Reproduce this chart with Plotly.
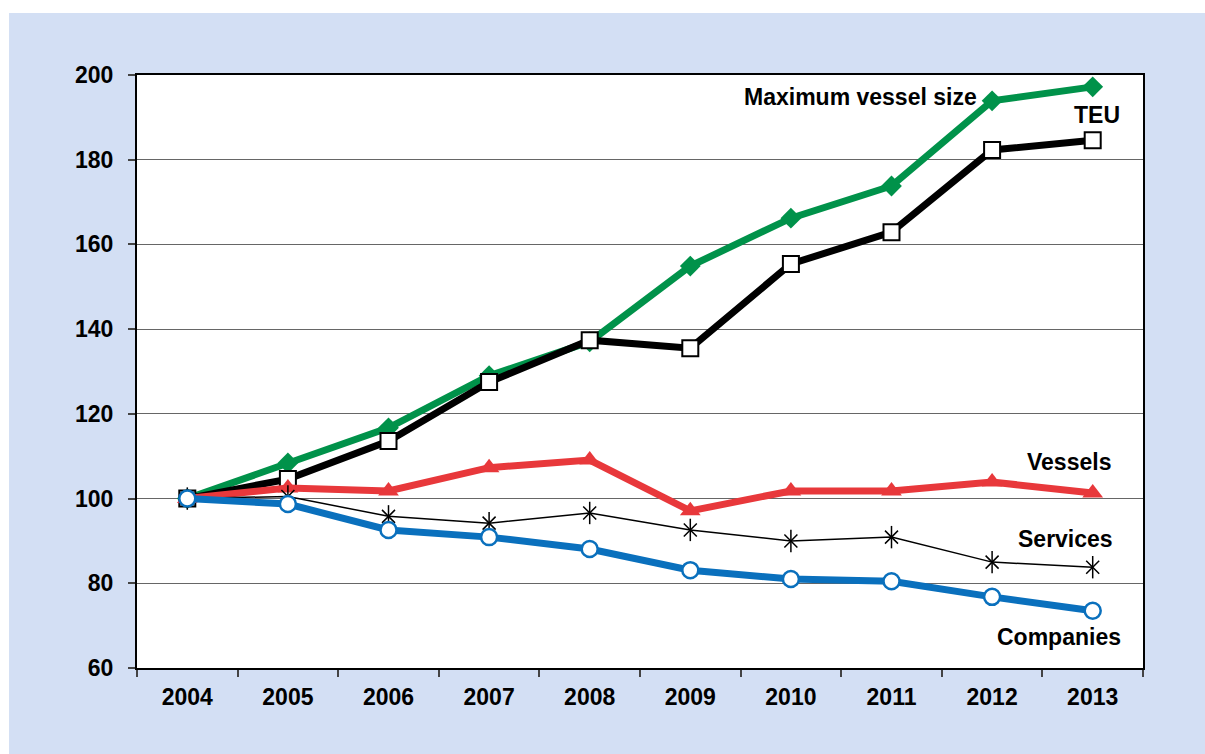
import plotly.graph_objects as go

# Index values, 2004 = 100
YEARS = ["2004", "2005", "2006", "2007", "2008", "2009", "2010", "2011", "2012", "2013"]
MAX_VESSEL_SIZE = [100, 108.4, 116.7, 129.0, 137.0, 154.9, 166.2, 173.8, 193.9, 197.2]
TEU = [100, 104.6, 113.6, 127.5, 137.4, 135.5, 155.4, 162.9, 182.3, 184.6]
VESSELS = [100, 102.5, 101.8, 107.3, 109.1, 97.1, 101.8, 101.8, 103.9, 101.3]
SERVICES = [100, 100.5, 95.8, 94.2, 96.6, 92.6, 90.0, 90.9, 85.0, 83.8]
COMPANIES = [100, 98.7, 92.6, 90.9, 88.1, 83.1, 81.0, 80.5, 76.8, 73.5]

GREEN = "#00924a"
RED = "#e8383b"
BLUE = "#0a70bd"
BG_BLUE = "#d3dff4"
FONT = "Liberation Sans, Arial, sans-serif"

fig = go.Figure()

fig.add_trace(go.Scatter(
    x=YEARS, y=MAX_VESSEL_SIZE, mode="lines+markers", name="Maximum vessel size",
    line=dict(color=GREEN, width=7),
    marker=dict(symbol="diamond", size=16, color=GREEN),
))
fig.add_trace(go.Scatter(
    x=YEARS, y=TEU, mode="lines+markers", name="TEU",
    line=dict(color="black", width=7),
    marker=dict(symbol="square", size=16, color="white", line=dict(color="black", width=2)),
))
fig.add_trace(go.Scatter(
    x=YEARS, y=VESSELS, mode="lines+markers", name="Vessels",
    line=dict(color=RED, width=7),
    marker=dict(symbol="triangle-up", size=18, color=RED),
))
fig.add_trace(go.Scatter(
    x=YEARS, y=SERVICES, mode="lines+markers", name="Services",
    line=dict(color="black", width=1.5),
    marker=dict(symbol="x-thin-open", size=13, color="black", line=dict(color="black", width=1.5)),
))
# vertical stroke to make the six-armed asterisk
fig.add_trace(go.Scatter(
    x=YEARS, y=SERVICES, mode="markers", name="Services",
    marker=dict(symbol="line-ns-open", size=16, color="black", line=dict(color="black", width=1.5)),
))
fig.add_trace(go.Scatter(
    x=YEARS, y=COMPANIES, mode="lines+markers", name="Companies",
    line=dict(color=BLUE, width=7),
    marker=dict(symbol="circle", size=16, color="white", line=dict(color=BLUE, width=2.5)),
))

# series labels
labels = [
    ("Maximum vessel size", 7.87, 194.8, "right"),
    ("TEU", 9.04, 190.5, "center"),
    ("Vessels", 9.2, 108.6, "right"),
    ("Services", 9.22, 90.5, "right"),
    ("Companies", 9.3, 67.3, "right"),
]
for text, x, y, anchor in labels:
    fig.add_annotation(
        x=x, y=y, text=f"<b>{text}</b>", showarrow=False, xanchor=anchor, yanchor="middle",
        font=dict(family=FONT, size=23, color="black"),
    )

# white strips along the top and left edges, white plot area over the blue paper
fig.add_shape(type="rect", xref="paper", yref="paper", x0=-0.2, x1=1.2, y0=1.1046, y1=1.2,
              fillcolor="white", line=dict(width=0), layer="below")
fig.add_shape(type="rect", xref="paper", yref="paper", x0=-0.2, x1=-0.1272, y0=-0.2, y1=1.2,
              fillcolor="white", line=dict(width=0), layer="below")
fig.add_shape(type="rect", xref="paper", yref="paper", x0=0, x1=1, y0=0, y1=1,
              fillcolor="white", line=dict(width=0), layer="below")

fig.update_layout(
    width=1205, height=754,
    margin=dict(l=137, r=62, t=75, b=86),
    paper_bgcolor=BG_BLUE, plot_bgcolor="white",
    showlegend=False,
    font=dict(family=FONT, size=23, color="black"),
)
fig.update_xaxes(
    type="category", range=[-0.5, 9.5], tickson="boundaries",
    ticks="outside", ticklen=7, tickcolor="#444", tickwidth=1.5,
    showline=True, linecolor="black", linewidth=2, mirror=True,
    showgrid=False, ticklabelstandoff=7,
    tickfont=dict(family=FONT, size=23, weight="bold"),
)
fig.update_yaxes(
    range=[60, 200], dtick=20, tick0=60,
    ticks="outside", ticklen=7, tickcolor="#444", tickwidth=1.5,
    showline=True, linecolor="black", linewidth=2, mirror=True,
    showgrid=True, gridcolor="#666", gridwidth=1.2, zeroline=False,
    ticklabelstandoff=10,
    tickfont=dict(family=FONT, size=23, weight="bold"),
)

fig.write_html(
    "out.html",
    config={"displayModeBar": False},
    post_script="document.body.style.margin='0';document.documentElement.style.overflow='hidden';",
)
